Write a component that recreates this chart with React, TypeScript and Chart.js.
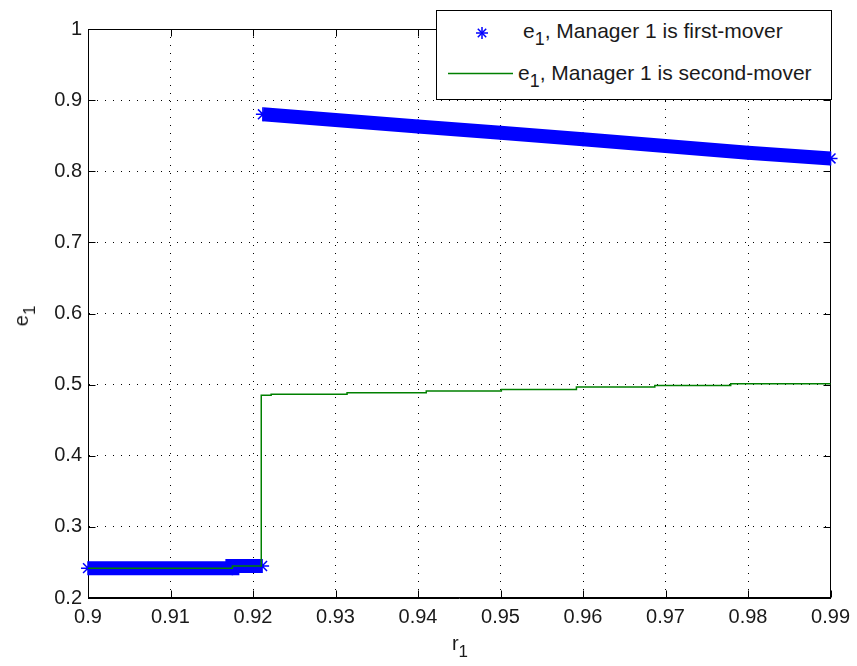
import React, { useEffect, useRef } from 'react';
import { Chart, registerables } from 'chart.js';

Chart.register(...registerables);

// ---- data ----
const xTicks = [0.9, 0.91, 0.92, 0.93, 0.94, 0.95, 0.96, 0.97, 0.98, 0.99];
const xTickLabels = ['0.9', '0.91', '0.92', '0.93', '0.94', '0.95', '0.96', '0.97', '0.98', '0.99'];
const yTicks = [0.2, 0.3, 0.4, 0.5, 0.6, 0.7, 0.8, 0.9, 1];
const yTickLabels = ['0.2', '0.3', '0.4', '0.5', '0.6', '0.7', '0.8', '0.9', '1'];

// e1, Manager 1 is first-mover (blue stars), low branch
const firstLowR = [0.9, 0.9175, 0.9175, 0.9211];
const firstLowE = [0.242, 0.242, 0.245, 0.245];
// high branch
const firstHighR = [0.9212, 0.93, 0.94, 0.95, 0.96, 0.97, 0.98, 0.99];
const firstHighE = [0.88, 0.872, 0.863, 0.854, 0.845, 0.8355, 0.826, 0.818];

// e1, Manager 1 is second-mover (green line, step)
const secondR = [0.9, 0.9175, 0.921, 0.9222, 0.9314, 0.941, 0.9501, 0.9592, 0.9687, 0.9779, 0.99];
const secondE = [0.242, 0.245, 0.485, 0.4866, 0.4885, 0.4909, 0.4933, 0.4965, 0.4989, 0.5011, 0.502];

const FONT = "'Liberation Sans', Arial, Helvetica, sans-serif";

const zip = (xs: number[], ys: number[]) => xs.map((x, i) => ({ x, y: ys[i] }));

const framePlugin = {
  id: 'matlabFrame',
  beforeDatasetsDraw(chart: any) {
    const { ctx, chartArea, scales } = chart;
    const l = Math.round(chartArea.left) + 0.5;
    const r = Math.round(chartArea.right) - 0.5;
    const t = Math.round(chartArea.top) + 0.5;
    const b = Math.round(chartArea.bottom) - 0.5;
    ctx.save();
    ctx.strokeStyle = '#000';
    ctx.lineWidth = 1;
    ctx.setLineDash([]);
    ctx.strokeRect(l, t, r - l, b - t);
    const len = 7;
    ctx.beginPath();
    xTicks.forEach((v) => {
      const px = Math.round(scales.x.getPixelForValue(v)) + 0.5;
      ctx.moveTo(px, b);
      ctx.lineTo(px, b - len);
      ctx.moveTo(px, t);
      ctx.lineTo(px, t + len);
    });
    yTicks.forEach((v) => {
      const py = Math.round(scales.y.getPixelForValue(v)) + 0.5;
      ctx.moveTo(l, py);
      ctx.lineTo(l + len, py);
      ctx.moveTo(r, py);
      ctx.lineTo(r - len, py);
    });
    ctx.stroke();
    ctx.restore();
  },
};

export default function App() {
  const canvasRef = useRef<HTMLCanvasElement | null>(null);

  useEffect(() => {
    document.body.style.margin = '0';
    const canvas = canvasRef.current;
    if (!canvas) return;
    const blueCommon = {
      borderColor: '#0000ff',
      backgroundColor: '#0000ff',
      borderWidth: 14,
      borderCapStyle: 'butt' as const,
      pointStyle: 'star' as const,
      pointRadius: 7,
      pointBorderWidth: 1.5,
      pointBorderColor: '#0000ff',
      pointBackgroundColor: '#0000ff',
      showLine: true,
      fill: false,
      order: 1,
      clip: false as any,
    };
    const chart = new Chart(canvas, {
      type: 'line',
      data: {
        datasets: [
          {
            label: 'e1, Manager 1 is second-mover',
            data: zip(secondR, secondE),
            borderColor: '#008000',
            backgroundColor: '#008000',
            borderWidth: 1.5,
            pointRadius: 0,
            stepped: true,
            fill: false,
            order: 0,
          },
          { label: 'e1, Manager 1 is first-mover', data: zip(firstLowR, firstLowE), ...blueCommon },
          { label: 'e1, Manager 1 is first-mover (high)', data: zip(firstHighR, firstHighE), ...blueCommon },
        ],
      },
      options: {
        animation: false,
        responsive: false,
        maintainAspectRatio: false,
        layout: { padding: { top: 29, right: 24, left: 0, bottom: 0 } },
        plugins: { legend: { display: false }, tooltip: { enabled: false } },
        scales: {
          x: {
            type: 'linear',
            min: 0.9,
            max: 0.99,
            afterBuildTicks: (s: any) => {
              s.ticks = xTicks.map((v) => ({ value: v }));
            },
            afterFit: (s: any) => {
              s.height = 68;
            },
            grid: { color: '#000', lineWidth: 1, drawTicks: false },
            border: { display: true, color: '#000', width: 1, dash: [1, 7] },
            ticks: {
              autoSkip: false,
              maxRotation: 0,
              padding: 7,
              color: '#1a1a1a',
              font: { family: FONT, size: 20 },
              callback: (_v: any, i: number) => xTickLabels[i],
            },
          },
          y: {
            type: 'linear',
            min: 0.2,
            max: 1,
            afterBuildTicks: (s: any) => {
              s.ticks = yTicks.map((v) => ({ value: v }));
            },
            afterFit: (s: any) => {
              s.width = 88;
            },
            grid: { color: '#000', lineWidth: 1, drawTicks: false },
            border: { display: true, color: '#000', width: 1, dash: [1, 7] },
            ticks: {
              autoSkip: false,
              padding: 6,
              color: '#1a1a1a',
              font: { family: FONT, size: 20 },
              callback: (_v: any, i: number) => yTickLabels[i],
            },
          },
        },
      },
      plugins: [framePlugin],
    });
    return () => chart.destroy();
  }, []);

  const sub: React.CSSProperties = { fontSize: '0.85em', position: 'relative', top: '0.42em' };

  return (
    <div style={{ position: 'relative', width: 857, height: 666, background: '#fff', fontFamily: FONT, color: '#1a1a1a' }}>
      <canvas ref={canvasRef} width={857} height={666} style={{ display: 'block' }} />
      {/* y axis label */}
      <div
        style={{
          position: 'absolute',
          left: 22,
          top: 316,
          transform: 'translate(-50%, -50%) rotate(-90deg)',
          fontSize: 20,
          lineHeight: '20px',
          whiteSpace: 'nowrap',
        }}
      >
        e<span style={sub}>1</span>
      </div>
      {/* x axis label */}
      <div
        style={{
          position: 'absolute',
          left: 460,
          top: 633,
          transform: 'translateX(-50%)',
          fontSize: 20,
          lineHeight: '20px',
          whiteSpace: 'nowrap',
        }}
      >
        r<span style={sub}>1</span>
      </div>
      {/* legend */}
      <div
        style={{
          position: 'absolute',
          left: 436,
          top: 10,
          width: 396,
          height: 90,
          boxSizing: 'border-box',
          border: '1px solid #000',
          background: '#fff',
        }}
      >
        <svg width={396} height={90} style={{ position: 'absolute', left: -1, top: -1 }}>
          <g stroke="#0000ff" strokeWidth={1.5}>
            <line x1={40} y1={23} x2={52} y2={23} />
            <line x1={46} y1={17} x2={46} y2={29} />
            <line x1={41.8} y1={18.8} x2={50.2} y2={27.2} />
            <line x1={41.8} y1={27.2} x2={50.2} y2={18.8} />
          </g>
          <line x1={12} y1={63.5} x2={77} y2={63.5} stroke="#008000" strokeWidth={1.5} />
        </svg>
        <div style={{ position: 'absolute', left: 86, top: 9, fontSize: 21, lineHeight: '21px', whiteSpace: 'nowrap' }}>
          e<span style={sub}>1</span>, Manager 1 is first-mover
        </div>
        <div style={{ position: 'absolute', left: 81, top: 51, fontSize: 21, lineHeight: '21px', whiteSpace: 'nowrap' }}>
          e<span style={sub}>1</span>, Manager 1 is second-mover
        </div>
      </div>
    </div>
  );
}
